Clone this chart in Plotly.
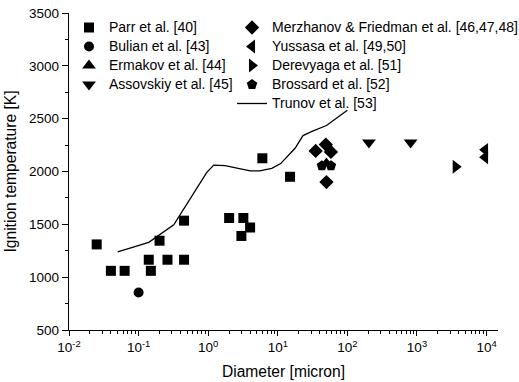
import plotly.graph_objects as go

# Ignition temperature of aluminium particles vs. particle diameter
parr_d = [0.025, 0.04, 0.063, 0.14, 0.15, 0.2, 0.26, 0.45, 0.45, 2.0, 3.2, 3.0, 4.0, 6.0, 15]
parr_T = [1310, 1060, 1060, 1165, 1060, 1345, 1165, 1165, 1535, 1560, 1560, 1390, 1470, 2125, 1950]

bulian_d = [0.1]
bulian_T = [855]

ermakov_d = [50]
ermakov_T = [2075]

assovskiy_d = [204, 810]
assovskiy_T = [2275, 2275]

merzhanov_d = [35, 49, 58, 50]
merzhanov_T = [2195, 2255, 2185, 1900]

yussasa_d = [9500, 9500]
yussasa_T = [2205, 2135]

derevyaga_d = [3600]
derevyaga_T = [2045]

brossard_d = [43, 58]
brossard_T = [2055, 2055]

trunov_d = [0.05, 0.14, 0.32, 0.72, 0.95, 1.2, 1.75, 4.0, 5.5, 8.2, 11, 17.7, 23, 31, 50, 100]
trunov_T = [1240, 1330, 1495, 1855, 1990, 2060, 2055, 2005, 2005, 2030, 2075, 2220, 2340, 2380, 2435, 2580]

x_tick_vals = [0.01, 0.1, 1, 10, 100, 1000, 10000]
x_tick_text = ["10<sup>-2</sup>", "10<sup>-1</sup>", "10<sup>0</sup>", "10<sup>1</sup>",
               "10<sup>2</sup>", "10<sup>3</sup>", "10<sup>4</sup>"]

FONT = "Arial, Liberation Sans, sans-serif"
BLACK = "black"
LEGEND_TEXT_PX = 14

fig = go.Figure()


def legend_label(text):
    # larger label text on a compact legend row
    return f"<span style='font-size:{LEGEND_TEXT_PX}px'>{text}</span>"


def add_points(xs, ys, name, symbol, size, legend):
    fig.add_trace(go.Scatter(
        x=xs, y=ys, mode="markers", name=legend_label(name), legend=legend,
        marker=dict(symbol=symbol, size=size, color=BLACK, line=dict(width=0)),
    ))


add_points(parr_d, parr_T, "Parr et al. [40]", "square", 10, "legend")
add_points(bulian_d, bulian_T, "Bulian et al. [43]", "circle", 10, "legend")
add_points(ermakov_d, ermakov_T, "Ermakov et al. [44]", "triangle-up", 12, "legend")
add_points(assovskiy_d, assovskiy_T, "Assovskiy et al. [45]", "triangle-down", 12, "legend")
add_points(merzhanov_d, merzhanov_T, "Merzhanov & Friedman et al. [46,47,48]", "diamond", 11, "legend2")
add_points(yussasa_d, yussasa_T, "Yussasa et al. [49,50]", "triangle-left", 12, "legend2")
add_points(derevyaga_d, derevyaga_T, "Derevyaga et al. [51]", "triangle-right", 12, "legend2")
add_points(brossard_d, brossard_T, "Brossard et al. [52]", "pentagon", 11, "legend2")

fig.add_trace(go.Scatter(
    x=trunov_d, y=trunov_T, mode="lines", name=legend_label("Trunov et al. [53]"),
    legend="legend2", line=dict(color=BLACK, width=1.3),
))

# log-axis minor ticks at 2..9 of each decade
minor_x = [m * 10.0 ** e for e in range(-2, 5) for m in range(2, 10)]

legend_common = dict(
    xanchor="left", yanchor="top", bgcolor="rgba(0,0,0,0)",
    font=dict(family=FONT, size=11, color=BLACK), tracegroupgap=0, itemwidth=30,
    borderwidth=0,
)

fig.update_layout(
    width=519, height=382,
    margin=dict(l=69, r=21, t=13, b=52, autoexpand=False),
    paper_bgcolor="white", plot_bgcolor="white",
    font=dict(family=FONT, color=BLACK),
    legend=dict(x=0.0, y=1.0, **legend_common),
    legend2=dict(x=0.38, y=1.0, **legend_common),
    xaxis=dict(
        type="log", range=[-2, 4.164],
        tickmode="array", tickvals=x_tick_vals, ticktext=x_tick_text,
        ticks="outside", ticklen=5, tickwidth=1.2, tickcolor=BLACK,
        showline=True, linecolor=BLACK, linewidth=1.4,
        showgrid=False, zeroline=False,
        tickfont=dict(size=13.5, family=FONT),
        minor=dict(tickmode="array", tickvals=minor_x, ticks="outside", ticklen=3,
                   tickwidth=1, tickcolor=BLACK, showgrid=False),
        title=dict(text="Diameter [micron]", font=dict(size=15.6, family=FONT), standoff=11),
    ),
    yaxis=dict(
        range=[500, 3500], tickmode="linear", tick0=500, dtick=500,
        ticks="outside", ticklen=6, tickwidth=1.2, tickcolor=BLACK,
        showline=True, linecolor=BLACK, linewidth=1.4,
        showgrid=False, zeroline=False,
        tickfont=dict(size=13.5, family=FONT),
        minor=dict(dtick=250, ticks="outside", ticklen=3, tickwidth=1,
                   tickcolor=BLACK, showgrid=False),
        title=dict(text="Ignition temperature [K]", font=dict(size=15.6, family=FONT), standoff=8),
    ),
)

fig.write_html("out.html")
